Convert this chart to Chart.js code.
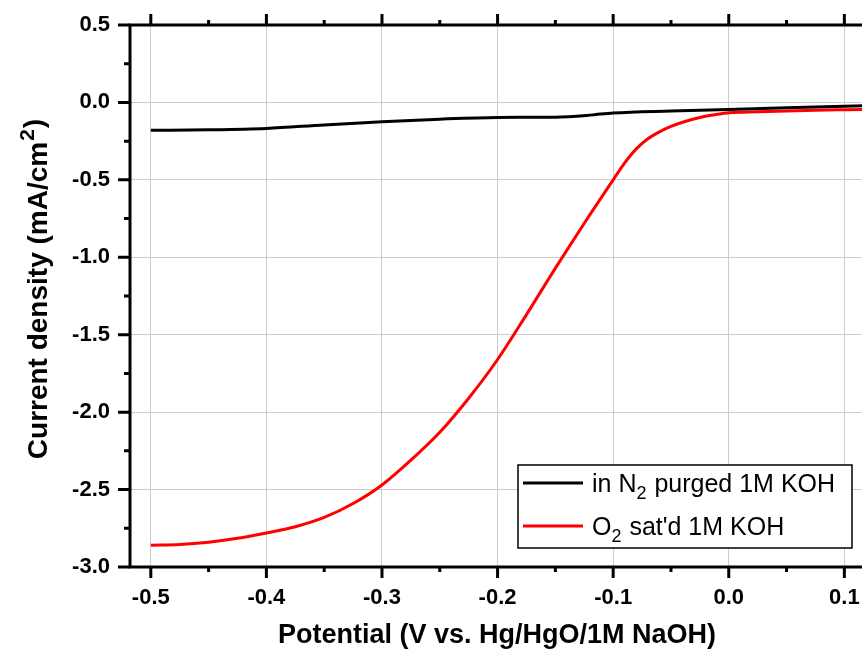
<!DOCTYPE html>
<html>
<head>
<meta charset="utf-8">
<script src="https://cdn.jsdelivr.net/npm/chart.js@4.4.0/dist/chart.umd.min.js"></script>
<style>
  html, body { margin: 0; padding: 0; background: #fff; overflow: hidden; }
  #wrap { width: 900px; height: 652px; }
</style>
</head>
<body>
<div id="wrap"><canvas id="chart"></canvas></div>
<script>
// N2 purged curve
const potentialN2 = [-0.5, -0.45, -0.4, -0.35, -0.3, -0.25, -0.2, -0.15, -0.12, -0.1, -0.05, 0, 0.05, 0.1, 0.13];
const currentN2 = [-0.18, -0.177, -0.168, -0.145, -0.125, -0.108, -0.097, -0.095, -0.082, -0.068, -0.055, -0.045, -0.035, -0.025, -0.018];

// O2 saturated curve
const potentialO2 = [-0.5, -0.475, -0.45, -0.425, -0.4, -0.375, -0.35, -0.325, -0.3, -0.275, -0.25, -0.225,
  -0.2, -0.175, -0.15, -0.125, -0.1, -0.09, -0.08, -0.07, -0.06, -0.05, -0.04, -0.025, -0.01, 0, 0.025, 0.05, 0.075, 0.1, 0.13];
const currentO2 = [-2.86, -2.855, -2.84, -2.815, -2.78, -2.74, -2.68, -2.59, -2.47, -2.31, -2.13, -1.91,
  -1.66, -1.37, -1.07, -0.78, -0.5, -0.39, -0.3, -0.235, -0.19, -0.155, -0.128, -0.097, -0.077, -0.067, -0.06, -0.055, -0.05, -0.047, -0.044];

const seriesNames = ["in N2 purged 1M KOH", "O2 sat'd 1M KOH"];
// legend text split into [text, isSubscript]
const seriesLabels = [
  [["in N", false], ["2", true], [" purged 1M KOH", false]],
  [["O", false], ["2", true], [" sat'd 1M KOH", false]]
];
const seriesColors = ["#000000", "#ff0000"];

const FONT = "Arial, 'Liberation Sans'";
const isMajor = (v, step) => Math.abs(Math.round(v / step) * step - v) < 1e-6;

// axes frame, minor ticks, legend and y title
const framePlugin = {
  id: "frame",
  afterDraw(chart) {
    const ctx = chart.ctx;
    const a = chart.chartArea;
    const xs = chart.scales.x, ys = chart.scales.y;
    ctx.save();
    ctx.strokeStyle = "#000";
    ctx.lineWidth = 3;
    ctx.strokeRect(a.left, a.top, a.right - a.left, a.bottom - a.top);

    ctx.beginPath();
    xs.ticks.forEach(t => {
      const px = xs.getPixelForValue(t.value);
      const len = isMajor(t.value, 0.1) ? 11 : 5;
      ctx.moveTo(px, a.bottom); ctx.lineTo(px, a.bottom + len);
      ctx.moveTo(px, a.top); ctx.lineTo(px, a.top - len);
    });
    ys.ticks.forEach(t => {
      const py = ys.getPixelForValue(t.value);
      const len = isMajor(t.value, 0.5) ? 12 : 6;
      ctx.moveTo(a.left, py); ctx.lineTo(a.left - len, py);
      ctx.moveTo(a.right, py); ctx.lineTo(a.right + len, py);
    });
    ctx.stroke();

    // legend
    const lx = 518, ly = 465, lw = 334, lh = 83;
    ctx.fillStyle = "#fff";
    ctx.fillRect(lx, ly, lw, lh);
    ctx.lineWidth = 1.5;
    ctx.strokeRect(lx, ly, lw, lh);
    seriesLabels.forEach((parts, i) => {
      const cy = ly + 18 + i * 43;
      ctx.strokeStyle = seriesColors[i];
      ctx.lineWidth = 3;
      ctx.beginPath();
      ctx.moveTo(lx + 5, cy); ctx.lineTo(lx + 65, cy);
      ctx.stroke();
      let tx = lx + 74;
      ctx.fillStyle = "#000";
      ctx.textBaseline = "alphabetic";
      parts.forEach(([txt, sub]) => {
        ctx.font = (sub ? "18px " : "25px ") + FONT;
        ctx.fillText(txt, tx, cy + (sub ? 16 : 9));
        tx += ctx.measureText(txt).width + (sub ? 1 : 0);
      });
    });

    // y axis title with superscript
    ctx.translate(39, 290);
    ctx.rotate(-Math.PI / 2);
    const p1 = "Current density (mA/cm", p2 = "2", p3 = ")";
    ctx.font = "bold 28px " + FONT;
    const w1 = ctx.measureText(p1).width, w3 = ctx.measureText(p3).width;
    ctx.font = "bold 21px " + FONT;
    const w2 = ctx.measureText(p2).width;
    const x0 = -(w1 + w2 + w3) / 2;
    ctx.fillStyle = "#000";
    ctx.textBaseline = "middle";
    ctx.font = "bold 28px " + FONT;
    ctx.fillText(p1, x0, 0);
    ctx.font = "bold 21px " + FONT;
    ctx.fillText(p2, x0 + w1 + 1, -11);
    ctx.font = "bold 28px " + FONT;
    ctx.fillText(p3, x0 + w1 + w2 + 2, -4);
    ctx.restore();
  }
};

new Chart(document.getElementById("chart"), {
  type: "line",
  data: {
    datasets: [
      {
        label: seriesNames[0],
        data: potentialN2.map((x, i) => ({ x, y: currentN2[i] })),
        borderColor: seriesColors[0],
        borderWidth: 3,
        pointRadius: 0,
        cubicInterpolationMode: "monotone",
      },
      {
        label: seriesNames[1],
        data: potentialO2.map((x, i) => ({ x, y: currentO2[i] })),
        borderColor: seriesColors[1],
        borderWidth: 3,
        pointRadius: 0,
        cubicInterpolationMode: "monotone",
      },
    ],
  },
  options: {
    responsive: true,
    maintainAspectRatio: false,
    animation: false,
    layout: { padding: { left: 0, right: 36, top: 25, bottom: 0 } },
    plugins: { legend: { display: false }, tooltip: { enabled: false } },
    scales: {
      x: {
        type: "linear",
        min: -0.518,
        max: 0.117,
        afterFit: (s) => { s.height = 85; s.paddingLeft = 0; s.paddingRight = 0; },
        border: { display: false },
        grid: {
          drawTicks: false,
          lineWidth: 1,
          color: (c) => (c.tick && isMajor(c.tick.value, 0.1) ? "#cccccc" : "rgba(0,0,0,0)"),
        },
        ticks: {
          stepSize: 0.05,
          includeBounds: false,
          padding: 18,
          color: "#000",
          font: { family: FONT, size: 22, weight: "bold" },
          callback: (v) => (isMajor(v, 0.1) ? v.toFixed(1) : ""),
          maxRotation: 0,
          autoSkip: false,
        },
        title: {
          display: true,
          text: "Potential (V vs. Hg/HgO/1M NaOH)",
          color: "#000",
          font: { family: FONT, size: 27, weight: "bold" },
          padding: { top: 0, bottom: 0 },
        },
      },
      y: {
        min: -3,
        max: 0.5,
        afterFit: (s) => { s.width = 130; s.paddingTop = 0; s.paddingBottom = 0; },
        border: { display: false },
        grid: {
          drawTicks: false,
          lineWidth: 1,
          color: (c) => (c.tick && isMajor(c.tick.value, 0.5) ? "#cccccc" : "rgba(0,0,0,0)"),
        },
        ticks: {
          stepSize: 0.25,
          includeBounds: false,
          padding: 20,
          color: "#000",
          font: { family: FONT, size: 22, weight: "bold" },
          callback: (v) => (isMajor(v, 0.5) ? v.toFixed(1) : ""),
          autoSkip: false,
        },
      },
    },
  },
  plugins: [framePlugin],
});
</script>
</body>
</html>
